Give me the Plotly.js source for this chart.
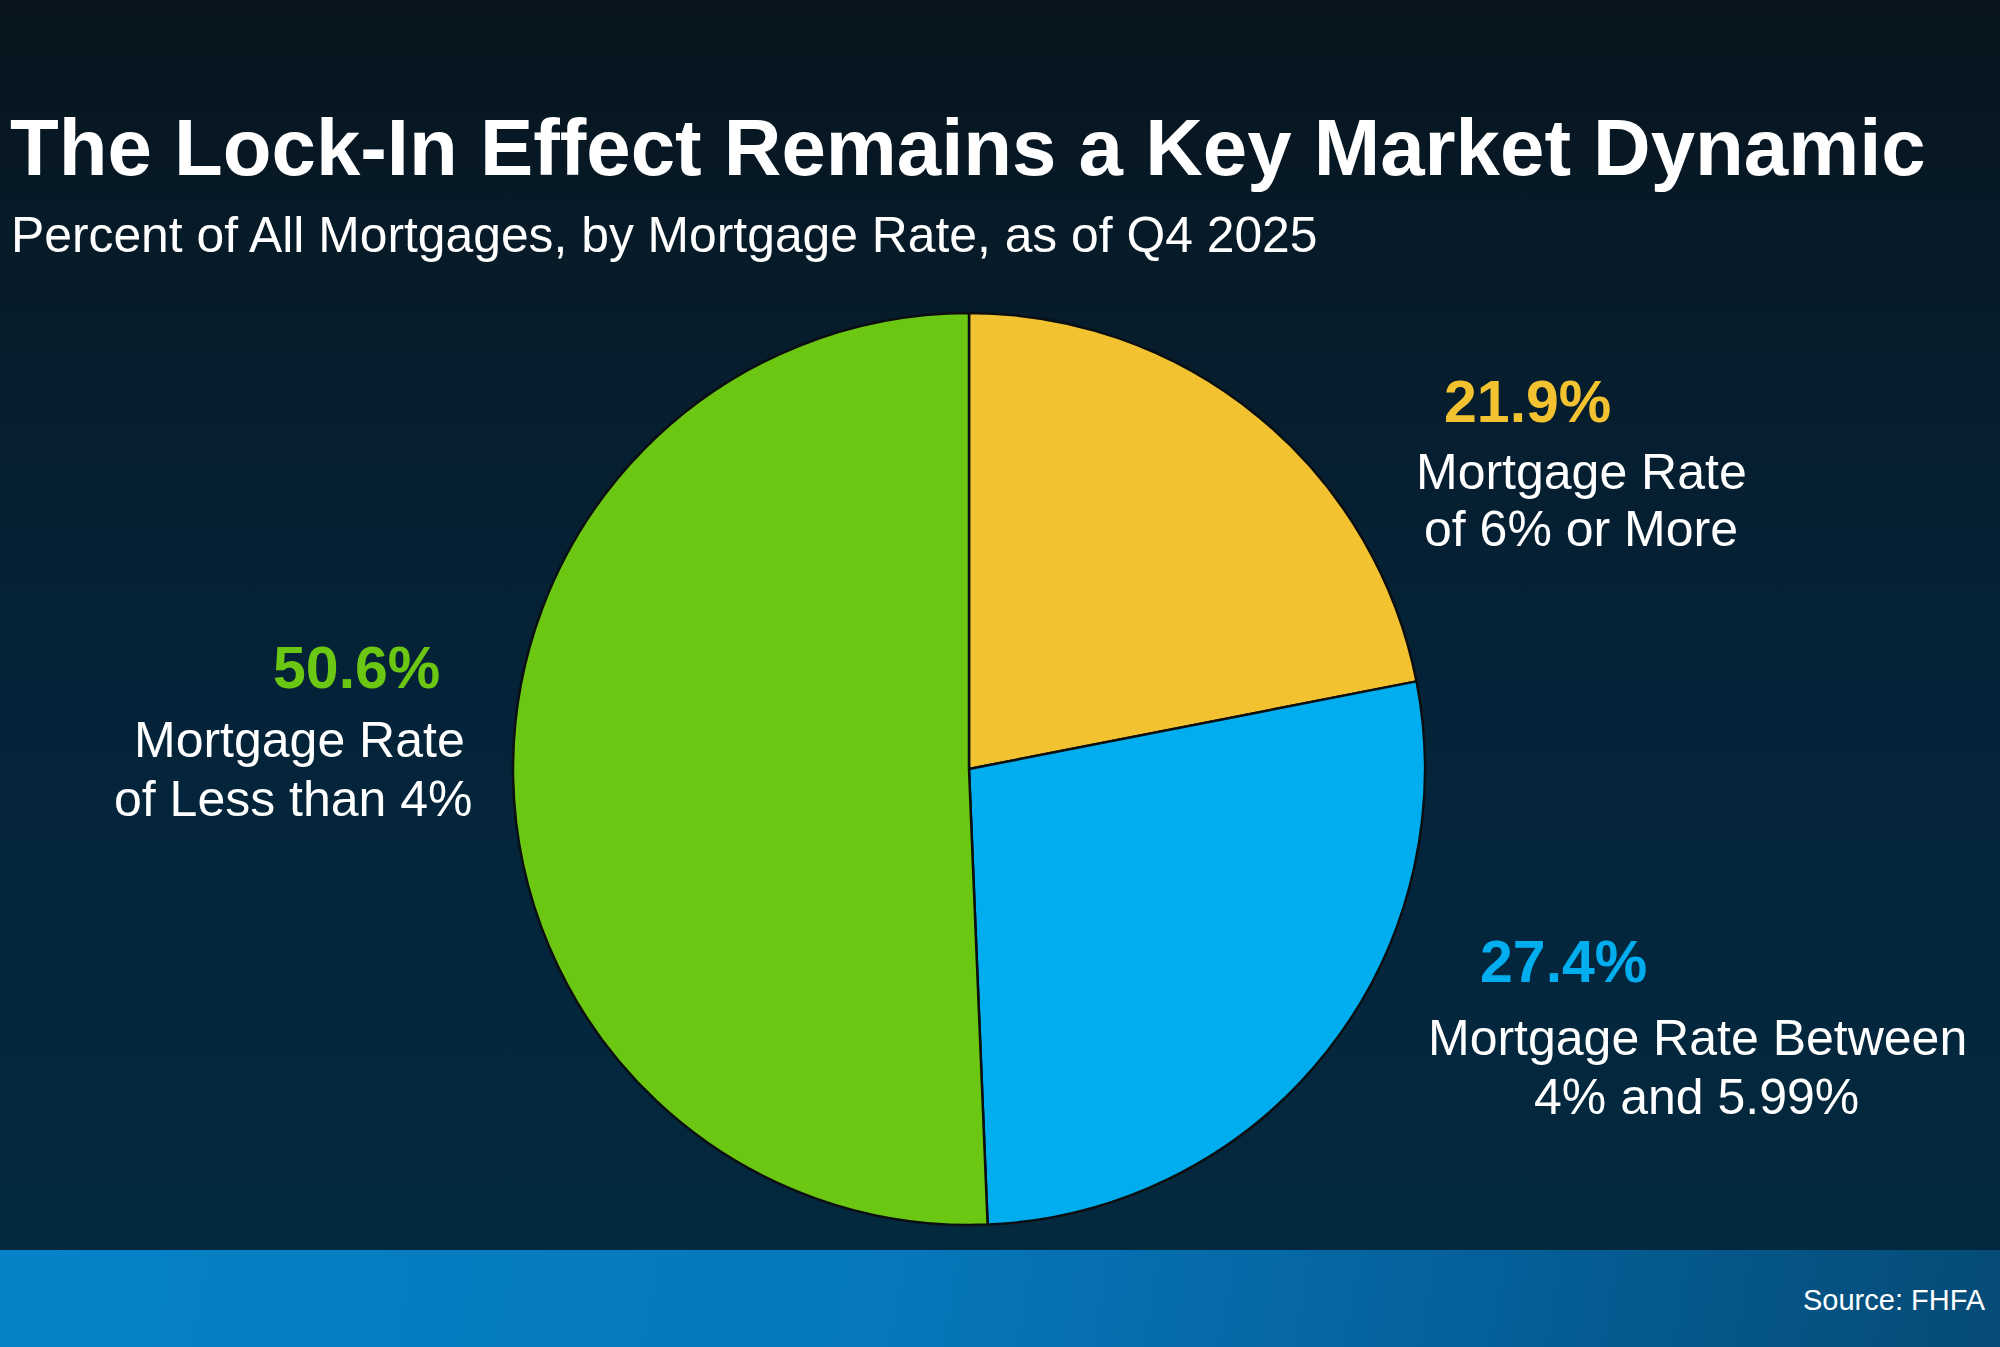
<!DOCTYPE html>
<html>
<head>
<meta charset="utf-8">
<script src="https://cdn.plot.ly/plotly-3.0.1.min.js"></script>
<style>
  html, body { margin: 0; padding: 0; }
  body {
    width: 2000px; height: 1347px; overflow: hidden;
    background:
      linear-gradient(100deg, #0682c8 0%, #0677bb 45%, #055f98 75%, #054b76 100%) 0 1250px / 2000px 97px no-repeat,
      linear-gradient(180deg, #07141d 0%, #071c2b 25%, #04243a 60%, #03293f 100%) 0 0 / 2000px 1250px no-repeat;
  }
  #chart { width: 2000px; height: 1347px; }
</style>
</head>
<body>
<div id="chart"></div>
<script>
// Share of outstanding mortgages by interest-rate bucket
const categories = [
  'Mortgage Rate of 6% or More',
  'Mortgage Rate Between 4% and 5.99%',
  'Mortgage Rate of Less than 4%'
];
const shares = [21.9, 27.4, 50.6];
const sliceColors = ['#f2c230', '#00aeef', '#6cc712'];

// Label lines next to each slice
const labelLines = [
  ['Mortgage Rate', 'of 6% or More'],
  ['Mortgage Rate Between', '4% and 5.99%'],
  ['Mortgage Rate', 'of Less than 4%']
];

const W = 2000, H = 1347;
const px = x => x / W;
const py = y => 1 - y / H;

// Pie geometry in pixels
const cx = 969, cy = 769, r = 456;

const FONT = 'Liberation Sans, Arial, sans-serif';

// Where each slice's percentage and caption sit (pixel centres)
const labelPos = [
  { pct: [1527, 402], lines: [[1581, 472], [1581, 529]] },
  { pct: [1563, 962], lines: [[1697, 1038], [1696, 1097]] },
  { pct: [356, 668],  lines: [[299, 740],  [293, 799]] }
];

const annotations = [];
shares.forEach((v, i) => {
  annotations.push({
    text: '<b>' + v.toFixed(1) + '%</b>',
    x: px(labelPos[i].pct[0]), y: py(labelPos[i].pct[1]),
    xref: 'paper', yref: 'paper', xanchor: 'center', yanchor: 'middle',
    showarrow: false,
    font: { family: FONT, size: 59, color: sliceColors[i] }
  });
  labelLines[i].forEach((t, j) => {
    const p = labelPos[i].lines[j];
    annotations.push({
      text: t,
      x: px(p[0]), y: py(p[1]),
      xref: 'paper', yref: 'paper', xanchor: 'center', yanchor: 'middle',
      showarrow: false,
      font: { family: FONT, size: 50, color: '#ffffff' }
    });
  });
});

annotations.push({
  text: 'Percent of All Mortgages, by Mortgage Rate, as of Q4 2025',
  x: px(9), y: py(235),
  xref: 'paper', yref: 'paper', xanchor: 'left', yanchor: 'middle',
  showarrow: false,
  font: { family: FONT, size: 49.8, color: '#ffffff' }
});
annotations.push({
  text: 'Source: FHFA',
  x: px(1988), y: py(1300),
  xref: 'paper', yref: 'paper', xanchor: 'right', yanchor: 'middle',
  showarrow: false,
  font: { family: FONT, size: 29, color: '#ffffff' }
});

const trace = {
  type: 'pie',
  labels: categories,
  values: shares,
  sort: false,
  direction: 'clockwise',
  rotation: 0,
  textinfo: 'none',
  hoverinfo: 'label+percent',
  marker: { colors: sliceColors, line: { color: '#0b0f12', width: 2.5 } },
  domain: { x: [px(cx - r), px(cx + r)], y: [py(cy + r), py(cy - r)] },
  showlegend: false
};

const layout = {
  width: W, height: H,
  margin: { l: 0, r: 0, t: 0, b: 0 },
  paper_bgcolor: 'rgba(0,0,0,0)',
  plot_bgcolor: 'rgba(0,0,0,0)',
  title: {
    text: '<b>The Lock-In Effect Remains a Key Market Dynamic</b>',
    x: px(10), xref: 'paper', xanchor: 'left',
    y: py(147), yref: 'container', yanchor: 'middle',
    font: { family: FONT, size: 79.8, color: '#ffffff' }
  },
  annotations: annotations,
  showlegend: false
};

Plotly.newPlot('chart', [trace], layout, { displayModeBar: false, staticPlot: true });
</script>
</body>
</html>
